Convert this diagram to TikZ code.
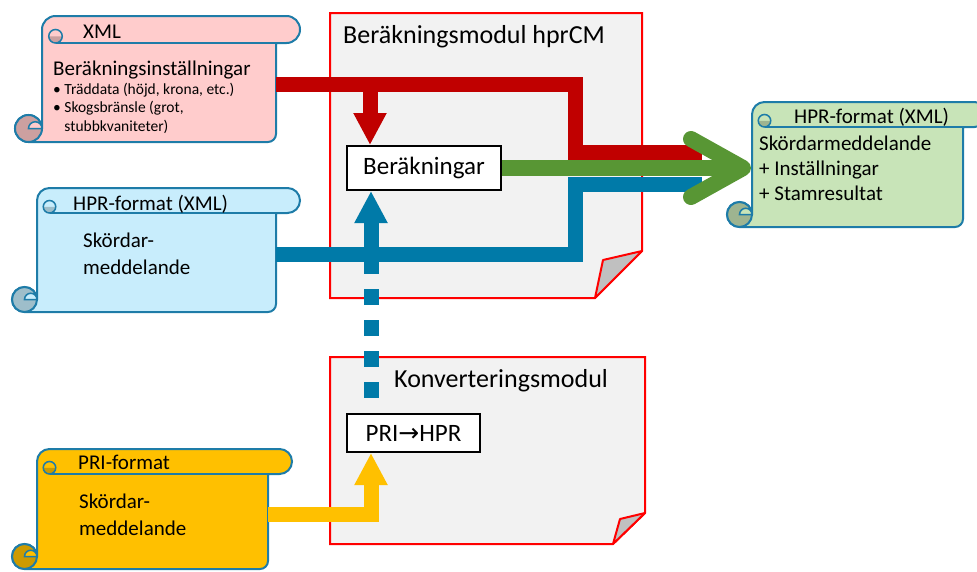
\documentclass[tikz,border=0pt]{standalone}
\usepackage{fontspec}
\setmainfont{Carlito}
\newfontfamily\arrowfont{DejaVu Sans}
\usepackage{xcolor}
\usetikzlibrary{arrows.meta,calc}
\definecolor{scrollblue}{RGB}{30,124,168}
\definecolor{barred}{RGB}{192,0,0}
\definecolor{barblue}{RGB}{0,122,168}
\definecolor{baryellow}{RGB}{255,192,0}
\definecolor{bargreen}{RGB}{88,150,52}
\definecolor{pinkfill}{RGB}{255,204,204}
\definecolor{pinkdark}{RGB}{204,160,160}
\definecolor{cyanfill}{RGB}{200,237,252}
\definecolor{cyandark}{RGB}{158,190,202}
\definecolor{yellowfill}{RGB}{255,192,0}
\definecolor{yellowdark}{RGB}{204,154,0}
\definecolor{greenfill}{RGB}{200,228,184}
\definecolor{greendark}{RGB}{158,180,144}
\definecolor{modfill}{RGB}{242,242,242}
\definecolor{foldgray}{RGB}{192,192,192}
\tikzset{
	scrollline/.style={
		draw=scrollblue,
		line width=2pt
	},
	scrolltitle/.style={
		anchor=base west,
		inner sep=0pt,
		font=\fontsize{21}{26}\selectfont
	},
	scrolltext/.style={
		anchor=base west,
		inner sep=0pt,
		align=left,
		font=\fontsize{21}{27}\selectfont
	},
	bullettext/.style={
		anchor=base west,
		inner sep=0pt,
		align=left,
		font=\fontsize{15.5}{18.3}\selectfont
	},
	modtitle/.style={
		anchor=base west,
		inner sep=0pt,
		font=\fontsize{26}{30}\selectfont
	},
	module/.style={
		draw=red,
		line width=2pt,
		fill=modfill
	},
	fold/.style={
		draw=red,
		line width=2pt,
		fill=foldgray,
		line join=round
	},
	calcbox/.style={
		rectangle,
		draw=black,
		line width=2pt,
		fill=white,
		inner sep=0pt,
		font=\fontsize{25}{30}\selectfont
	},
	bar/.style={line width=15pt},
	arrowbar/.style={line width=15pt,-{Triangle[length=32pt,width=31pt]}}
}
% L, T, R, B, roll radius, fill, roll colour
\newcommand{\scrollshape}[7]{%
	\filldraw[scrollline,fill=#6] (#1,#2+#5) arc[start angle=180,end angle=270,radius=#5]
		-- (#3+24-#5,#2) arc[start angle=270,end angle=450,radius=#5]
		-- (#3,#2+2*#5) -- (#3,#4-8) arc[start angle=0,end angle=90,radius=8]
		-- (#1-#5,#4) arc[start angle=90,end angle=360,radius=#5] -- cycle;
	\filldraw[scrollline,fill=#7] (#1-#5,#4-#5) circle[radius=#5];
	\filldraw[scrollline,line width=1.5pt,fill=#6] (#1-#5,#4-#5) arc[start angle=180,end angle=360,radius=#5/2] -- cycle;
	\fill[#7] (#1+#5/2,#2+1.5*#5) arc[start angle=180,end angle=0,radius=#5/2] -- cycle;
	\draw[scrollline,line width=1.5pt] (#1+#5,#2+1.5*#5) circle[radius=#5/2];
	\draw[scrollline] (#1+#5,#2+2*#5) -- (#3,#2+2*#5);
}

\begin{document}
\begin{tikzpicture}[x=1pt,y=-1pt]
	\useasboundingbox (0,0) rectangle (977,571);
	\clip (0,0) rectangle (977,571);

	\scrollshape{42}{16}{276}{142}{13.5}{pinkfill}{pinkdark}
	\scrollshape{37}{188}{276}{312}{12.5}{cyanfill}{cyandark}
	\scrollshape{37}{449}{268}{569}{12.5}{yellowfill}{yellowdark}
	\scrollshape{752}{102}{963}{227}{12.5}{greenfill}{greendark}

	\filldraw[module] (330,13) -- (642,13) -- (642,251) -- (595,298) -- (330,298) -- cycle;
	\filldraw[fold] (603,260) -- (642,251) -- (595,298) -- cycle;
	\filldraw[module] (330,357) -- (645,357) -- (645,513) -- (613,544) -- (330,544) -- cycle;
	\filldraw[fold] (620,519) -- (645,513) -- (613,544) -- cycle;

	\node[scrolltitle] (xmltitle) at (83,38) {XML};
	\node[scrolltitle] (xmltext) at (53,75) {Beräkningsinställningar};
	\node[bullettext] (xmlbullets) at (53,131) {• Träddata (höjd, krona, etc.)\\• Skogsbränsle (grot,\\\phantom{• }stubbkvaniteter)};
	\node[scrolltitle] (hprtitle) at (73,210) {HPR-format (XML)};
	\node[scrolltext] (hprtext) at (83,274) {Skördar-\\meddelande};
	\node[scrolltitle] (prititle) at (78,469) {PRI-format};
	\node[scrolltext] (pritext) at (79,535) {Skördar-\\meddelande};
	\node[scrolltitle] (outtitle) at (794,123) {HPR-format (XML)};
	\node[scrolltext,font=\fontsize{21}{25}\selectfont] (outtext) at (759,200) {Skördarmeddelande\\+ Inställningar\\+ Stamresultat};

	\node[modtitle] (calctitle) at (343,43) {Beräkningsmodul hprCM};
	\node[modtitle] (convtitle) at (394,387) {Konverteringsmodul};
	\node[calcbox,minimum width=154pt,minimum height=44pt] (ber) at (424,168) {Beräkningar};
	\node[calcbox,minimum width=133pt,minimum height=38pt] (pri) at (413.5,433) {PRI{\arrowfont →}HPR};

	\coordinate (xmlout) at (276,84);
	\coordinate (hprout) at (276,254);
	\coordinate (priout) at (268,514);
	\coordinate (redturn) at (575,152);
	\coordinate (blueturn) at (575,184);
	\coordinate (redend) at (702,152);
	\coordinate (blueend) at (702,184);
	\coordinate (outin) at (751,168);
	\coordinate (berin) at ($(ber.north west)+(24,0)$);
	\coordinate (berbot) at ($(ber.south west)+(25,0)$);
	\coordinate (priin) at ($(pri.south west)+(25,0)$);

	\draw[bar,barred] (xmlout) -| (redturn) -- (redend);
	\draw[bar,barblue] (hprout) -| (blueturn) -- (blueend);
	\draw[arrowbar,barred] (berin |- xmlout) -- (berin);
	\draw[bar,barblue,dash pattern=on 15.5pt off 15.5pt,dash phase=15.5pt] (pri.north -| berbot) -- (berbot |- hprout);
	\draw[arrowbar,barblue] (berbot |- hprout) -- (berbot);
	\draw[arrowbar,baryellow] (priout) -| (priin);
	\draw[bar,bargreen,line width=16pt,-{Straight Barb[length=52pt,width=58pt,round]}] (ber.east) -- (ber.east -| outin);
\end{tikzpicture}
\end{document}
